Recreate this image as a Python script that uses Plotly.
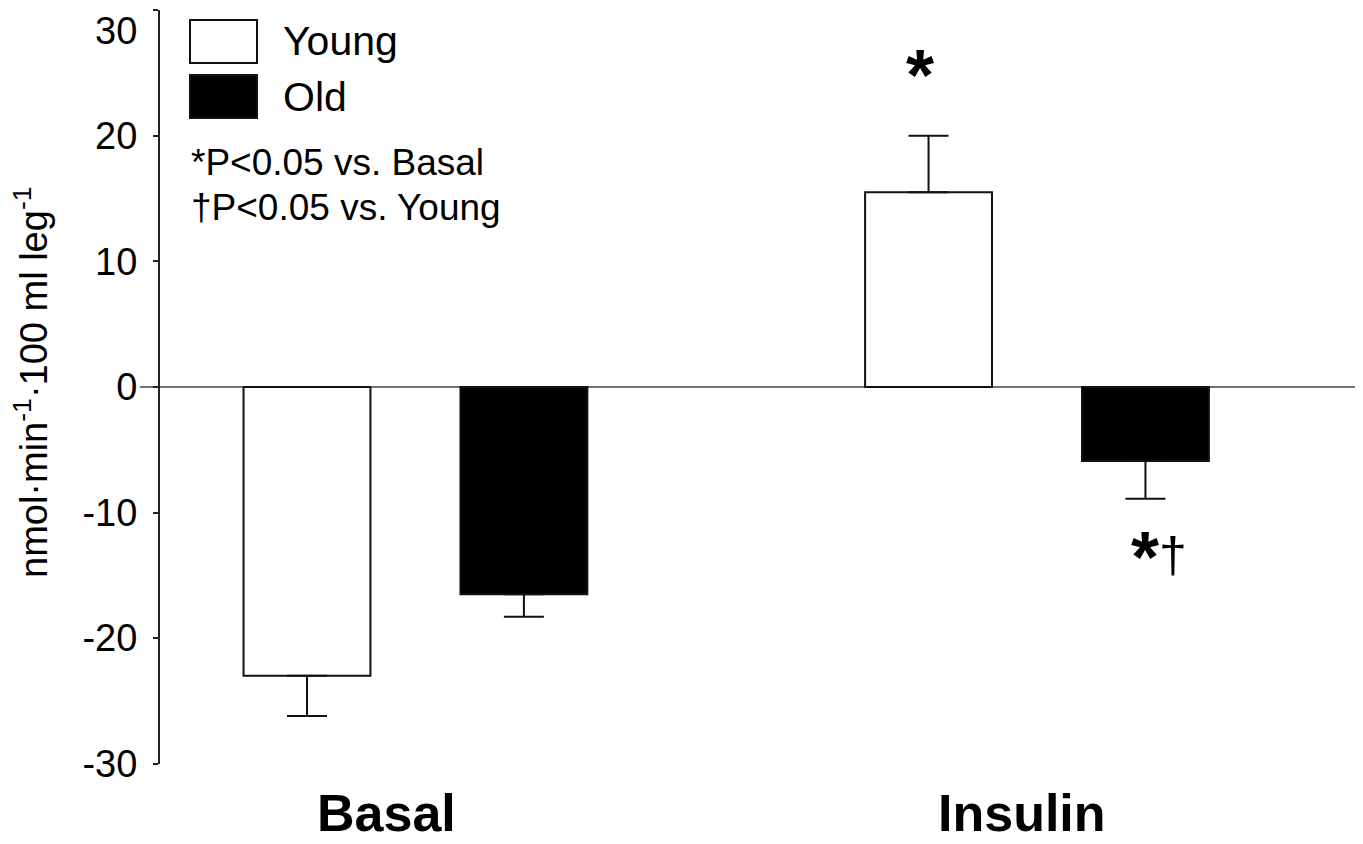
import plotly.graph_objects as go

# ---- data ----
categories = ["Basal", "Insulin"]
series_names = ["Young", "Old"]
young_values = [-23.0, 15.5]
young_errors = [3.2, 4.5]
old_values = [-16.5, -5.9]
old_errors = [1.8, 3.0]
y_ticks = [-30, -20, -10, 0, 10, 20, 30]
y_tick_labels = ["-30", "-20", "-10", "0", "10", "20", "30"]
y_title = "nmol·min<sup>-1</sup>·100 ml leg<sup>-1</sup>"
footnotes = ["*P<0.05 vs. Basal", "†P<0.05 vs. Young"]

FONT = "Liberation Sans, Arial, Helvetica, sans-serif"
OFF = 8  # page body margin
W_FIG, H_FIG = 1363 - OFF, 844 - OFF
L, R, T, B = 152, 0, 2, 80
PW, PH = W_FIG - L - R, H_FIG - T - B


def px2x(px):
    return (px - OFF - L) / PW


def py2y(py):
    return 1 - (py - OFF - T) / PH


def err_split(vals, errs):
    up = [e if v >= 0 else 0 for v, e in zip(vals, errs)]
    down = [e if v < 0 else 0 for v, e in zip(vals, errs)]
    return up, down


fig = go.Figure()
for name, vals, errs, fill in [
    (series_names[0], young_values, young_errors, "white"),
    (series_names[1], old_values, old_errors, "black"),
]:
    up, down = err_split(vals, errs)
    fig.add_trace(go.Bar(
        name=name, x=categories, y=vals,
        marker=dict(color=fill, line=dict(color="#111", width=2)),
        error_y=dict(type="data", symmetric=False, array=up, arrayminus=down,
                     color="#111", thickness=2, width=20),
        showlegend=False,
    ))

# zero line extending slightly left of the axis
fig.add_shape(type="line", xref="paper", yref="y", x0=px2x(140), x1=1, y0=0, y1=0,
              line=dict(color="#444", width=1.5), layer="below")

# legend boxes
legend_boxes = [(20, 63, "white"), (75, 118, "black")]
for (y0, y1, fill), name in zip(legend_boxes, series_names):
    fig.add_shape(type="rect", xref="paper", yref="paper",
                  x0=px2x(190), x1=px2x(257), y0=py2y(y1), y1=py2y(y0),
                  fillcolor=fill, line=dict(color="#111", width=2))
    fig.add_annotation(xref="paper", yref="paper", x=px2x(281), y=py2y((y0 + y1) / 2),
                       text=name, showarrow=False, xanchor="left", yanchor="middle",
                       font=dict(family=FONT, size=41, color="black"))

for txt, cy in zip(footnotes, [162, 208]):
    fig.add_annotation(xref="paper", yref="paper", x=px2x(189), y=py2y(cy),
                       text=txt, showarrow=False, xanchor="left", yanchor="middle",
                       font=dict(family=FONT, size=37, color="black"))

# significance markers
fig.add_annotation(xref="paper", yref="paper", x=px2x(920), y=py2y(75),
                   text="<b>*</b>", showarrow=False, xanchor="center", yanchor="middle",
                   font=dict(family=FONT, size=72, color="black"))
fig.add_annotation(xref="paper", yref="paper", x=px2x(1145), y=py2y(557),
                   text="<b>*</b>", showarrow=False, xanchor="center", yanchor="middle",
                   font=dict(family=FONT, size=72, color="black"))
fig.add_annotation(xref="paper", yref="paper", x=px2x(1173), y=py2y(555),
                   text="†", showarrow=False, xanchor="center", yanchor="middle",
                   font=dict(family=FONT, size=50, color="black"))

# category labels
for cat, cx in zip(categories, [386, 1022]):
    fig.add_annotation(xref="paper", yref="paper", x=px2x(cx), y=py2y(813),
                       text="<b>" + cat + "</b>", showarrow=False,
                       xanchor="center", yanchor="middle",
                       font=dict(family=FONT, size=52, color="black"))

# top tick label sits just below its tick (as in the reference) so it stays inside the page
fig.add_annotation(xref="paper", yref="y", x=0, y=y_ticks[-1], xshift=-21, yshift=-21,
                   text=y_tick_labels[-1], showarrow=False, xanchor="right", yanchor="middle",
                   font=dict(family=FONT, size=38, color="black"))
axis_tick_text = y_tick_labels[:-1] + [""]

# y-axis title
fig.add_annotation(xref="paper", yref="paper", x=px2x(31), y=py2y(382),
                   text=y_title, textangle=-90, showarrow=False,
                   xanchor="center", yanchor="middle",
                   font=dict(family=FONT, size=38, color="black"))

fig.update_layout(
    width=W_FIG, height=H_FIG,
    margin=dict(l=L, r=R, t=T, b=B, pad=0),
    paper_bgcolor="white", plot_bgcolor="white",
    barmode="group", bargap=0.302, bargroupgap=0.415,
    font=dict(family=FONT, color="black"),
    xaxis=dict(range=[-0.411, 1.5245], showline=False, showticklabels=False,
               ticks="", showgrid=False, zeroline=False),
    yaxis=dict(range=[-30.02, 30.02], tickmode="array", tickvals=y_ticks,
               ticktext=axis_tick_text, ticks="outside", ticklen=5,
               tickwidth=2, tickcolor="#222", showline=True, linewidth=2,
               linecolor="#222", showgrid=False, zeroline=False,
               tickfont=dict(family=FONT, size=38, color="black"),
               ticklabelstandoff=8),
)

fig.write_html("out.html")
